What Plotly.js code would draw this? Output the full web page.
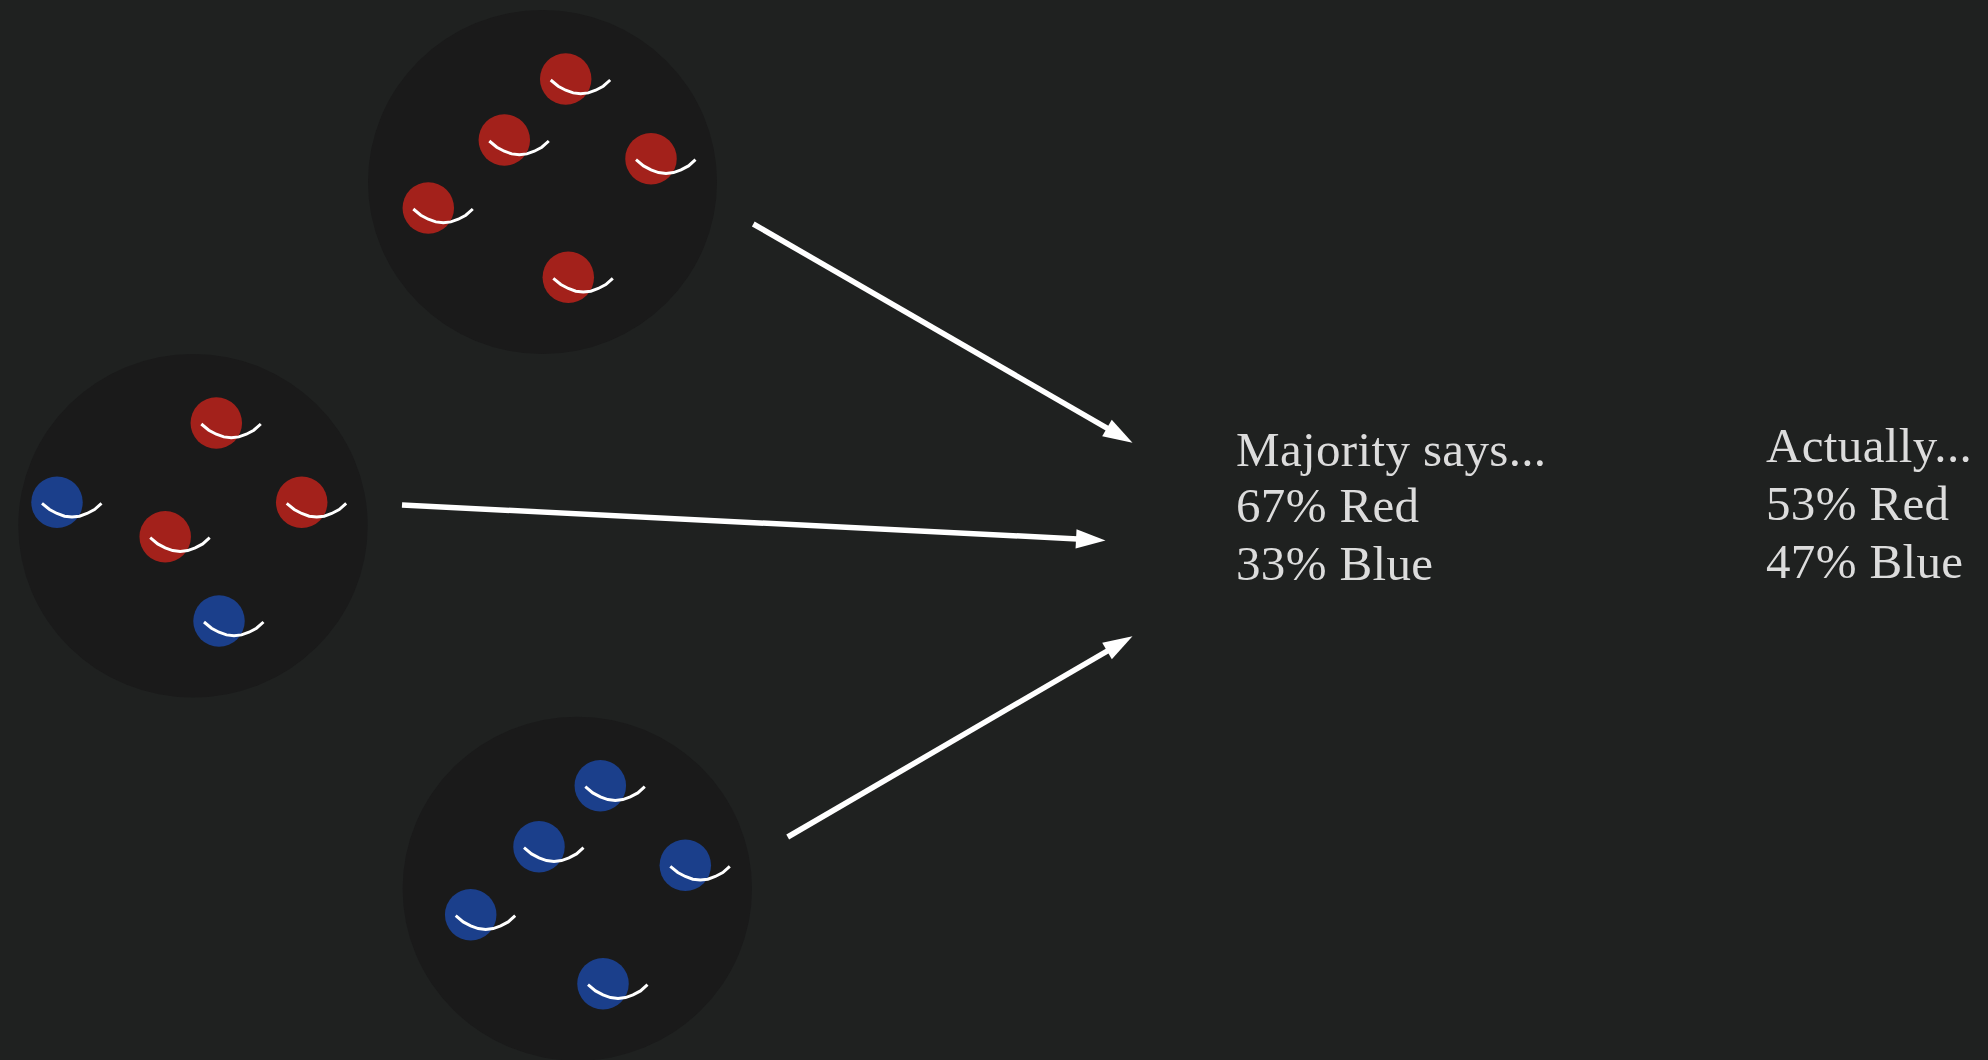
<!DOCTYPE html>
<html>
<head>
<meta charset="utf-8">
<script src="https://cdn.plot.ly/plotly-3.0.1.min.js"></script>
<style>html,body{margin:0;padding:0;background:#1f2120;overflow:hidden}
.annotation-text{letter-spacing:0.35px}</style>
</head>
<body>
<div id="chart" style="width:1988px;height:1060px"></div>
<script>
// Groups (large discs)
const groupX = [542.5, 193, 577.3];
const groupY = [182, 525.8, 888.7];
const groupRx = [174.5, 174.7, 174.7];
const groupRy = [172, 171.8, 172];

// People dots
const redX = [565.7, 504.3, 651, 428.3, 568.3, 216.3, 301.7, 165.2];
const redY = [79, 140, 158.7, 208, 277.3, 423, 502.3, 536.7];
const blueX = [57, 219, 600.3, 539, 685.3, 470.7, 603];
const blueY = [502.3, 621, 785.7, 846.7, 865.3, 914.7, 983.7];

// Smile curve, offsets from a dot's centre
const smileDx = [-15, -7.5, 0, 7.5, 15, 22.5, 30, 37.5, 44.5];
const smileDy = [1, 7.2, 11.2, 13.9, 14.8, 13.9, 11.2, 7.2, 1];

// Arrows
const arrowStartX = [753.3, 402, 787.7];
const arrowStartY = [224, 505, 837];
const arrowNeckX = [1112.6, 1082.3, 1112.7];
const arrowNeckY = [431.3, 539.2, 647.8];
const arrowTipX = [1132.5, 1105.5, 1132.5];
const arrowTipY = [442.8, 540.4, 636.2];

// Text
const textLabels = ["Majority says...", "67% Red", "33% Blue", "Actually...", "53% Red", "47% Blue"];
const textX = [1234, 1234, 1234, 1764, 1764, 1764];
const textY = [449, 505, 563, 445, 503, 561];

const colBg = "#1f2120", colGroup = "#1a1a1a", colRed = "#a3211b", colBlue = "#1b3f8b";
const colText = "#dcdcdc", colArrow = "#ffffff";

const traces = [];
traces.push({x: redX, y: redY, mode: "markers", type: "scatter", hoverinfo: "skip",
  marker: {color: colRed, size: 51.5, line: {width: 0}}});
traces.push({x: blueX, y: blueY, mode: "markers", type: "scatter", hoverinfo: "skip",
  marker: {color: colBlue, size: 51.5, line: {width: 0}}});

const allX = redX.concat(blueX), allY = redY.concat(blueY);
const sx = [], sy = [];
allX.forEach((cx, i) => {
  smileDx.forEach((d, j) => { sx.push(cx + d); sy.push(allY[i] + smileDy[j]); });
  sx.push(null); sy.push(null);
});
traces.push({x: sx, y: sy, mode: "lines", type: "scatter", hoverinfo: "skip", connectgaps: false,
  line: {color: "#ffffff", width: 3, shape: "linear"}});

arrowStartX.forEach((x0, i) => {
  traces.push({x: [x0, arrowNeckX[i]], y: [arrowStartY[i], arrowNeckY[i]], mode: "lines",
    type: "scatter", hoverinfo: "skip", line: {color: colArrow, width: 5.5}});
  traces.push({x: [x0, arrowTipX[i]], y: [arrowStartY[i], arrowTipY[i]], mode: "markers",
    type: "scatter", hoverinfo: "skip",
    marker: {symbol: "arrow", size: [0, 31], opacity: 1, angleref: "previous", color: colArrow, line: {width: 0}}});
});

const layout = {
  width: 1988, height: 1060,
  margin: {l: 0, r: 0, t: 0, b: 0, pad: 0},
  paper_bgcolor: colBg, plot_bgcolor: colBg, showlegend: false,
  xaxis: {range: [0, 1988], visible: false, fixedrange: true},
  yaxis: {range: [1060, 0], visible: false, fixedrange: true},
  shapes: groupX.map((cx, i) => ({
    type: "circle", xref: "x", yref: "y", layer: "below",
    x0: cx - groupRx[i], x1: cx + groupRx[i], y0: groupY[i] - groupRy[i], y1: groupY[i] + groupRy[i],
    fillcolor: colGroup, line: {width: 0}
  })),
  annotations: textLabels.map((t, i) => ({
    text: t, x: textX[i], y: textY[i], xref: "x", yref: "y", xanchor: "left", yanchor: "middle",
    showarrow: false, font: {family: "Liberation Serif, serif", size: 49, color: colText}
  }))
};
Plotly.newPlot("chart", traces, layout, {displayModeBar: false, staticPlot: true});
</script>
</body>
</html>
